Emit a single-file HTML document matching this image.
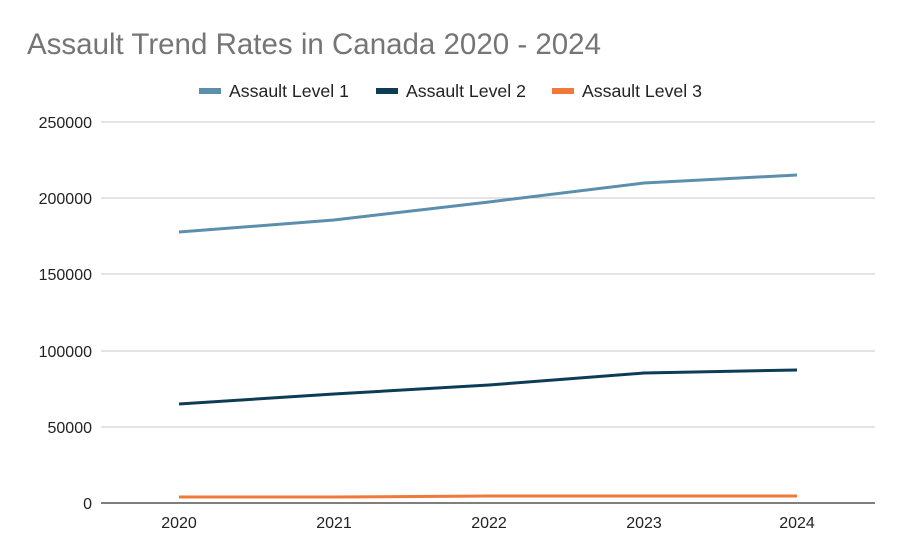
<!DOCTYPE html>
<html><head><meta charset="utf-8"><style>
body{margin:0;background:#fff;}
svg{display:block;font-family:"Liberation Sans",Arial,sans-serif;}
</style></head><body>
<svg width="902" height="558" viewBox="0 0 902 558">
<rect width="902" height="558" fill="#fff"/>
<text x="27" y="54" font-size="29.5" fill="#757575">Assault Trend Rates in Canada 2020 - 2024</text>
<g font-size="17.7" fill="#222">
<rect x="199" y="88" width="22" height="6" fill="#5b8fad"/><text x="229" y="97">Assault Level 1</text>
<rect x="376" y="88" width="22" height="6" fill="#0d3d56"/><text x="406" y="97">Assault Level 2</text>
<rect x="552" y="88" width="22" height="6" fill="#f07838"/><text x="582" y="97">Assault Level 3</text>
</g>
<g stroke="#c8c8c8" stroke-width="1">
<line x1="101" y1="122" x2="875" y2="122"/>
<line x1="101" y1="198" x2="875" y2="198"/>
<line x1="101" y1="274" x2="875" y2="274"/>
<line x1="101" y1="351" x2="875" y2="351"/>
<line x1="101" y1="427" x2="875" y2="427"/>
</g>
<line x1="101" y1="503" x2="875" y2="503" stroke="#333" stroke-width="1.2"/>
<g font-size="16" fill="#222" text-anchor="end">
<text x="92" y="128">250000</text>
<text x="92" y="204">200000</text>
<text x="92" y="280">150000</text>
<text x="92" y="357">100000</text>
<text x="92" y="433">50000</text>
<text x="92" y="509">0</text>
</g>
<g font-size="16" fill="#222" text-anchor="middle">
<text x="179" y="528">2020</text>
<text x="334" y="528">2021</text>
<text x="489" y="528">2022</text>
<text x="644" y="528">2023</text>
<text x="797" y="528">2024</text>
</g>
<g fill="none" stroke-width="3" stroke-linejoin="round">
<polyline stroke="#5b8fad" points="179,232 334,220 489,202 644,183 797,175"/>
<polyline stroke="#0d3d56" points="179,404 334,394 489,385 644,373 797,370"/>
<polyline stroke="#f07838" points="179,497 334,497 489,496 644,496 797,496"/>
</g>
</svg>
</body></html>
